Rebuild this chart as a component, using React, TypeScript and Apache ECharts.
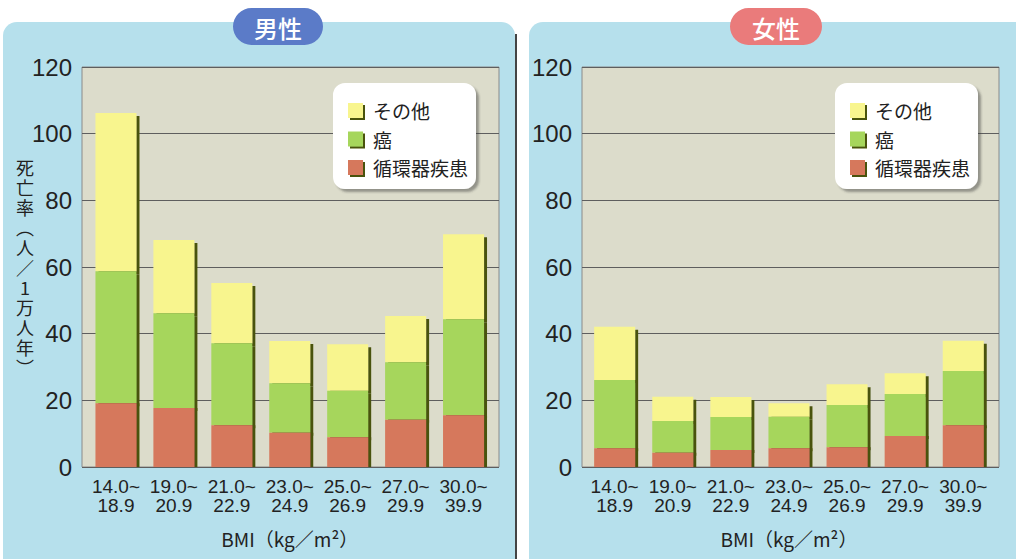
import React, { useEffect, useRef } from "react";
import * as echarts from "echarts";

const bmiLow = ["14.0~", "19.0~", "21.0~", "23.0~", "25.0~", "27.0~", "30.0~"];
const bmiHigh = ["18.9", "20.9", "22.9", "24.9", "26.9", "29.9", "39.9"];
const seriesNames = ["循環器疾患", "癌", "その他"];

const maleCirc = [19.1, 17.7, 12.5, 10.3, 8.9, 14.2, 15.5];
const maleCancer = [39.6, 28.4, 24.6, 14.8, 14.0, 17.2, 28.8];
const maleOther = [47.5, 22.0, 18.1, 12.7, 13.9, 13.9, 25.5];

const femaleCirc = [5.6, 4.3, 5.1, 5.6, 5.9, 9.3, 12.5];
const femaleCancer = [20.5, 9.5, 9.9, 9.5, 12.7, 12.6, 16.3];
const femaleOther = [16.0, 7.3, 6.0, 4.0, 6.2, 6.2, 9.1];

const yTicks = { min: 0, max: 120, interval: 20 };
const panelTitles = ["男性", "女性"];
const yAxisName = "死亡率︵人／1万人年︶";
const xAxisName = "BMI（kg／m²）";

const colors = ["#d6785b", "#a6d65c", "#f8f58e"];
const FONT = "'Noto Sans CJK JP', 'Noto Sans', sans-serif";
const NUMFONT = "'Liberation Sans', 'Noto Sans', sans-serif";

export default function App() {
  const ref = useRef<HTMLDivElement>(null);
  useEffect(() => {
    if (!ref.current) return;
    const chart = echarts.init(ref.current, undefined, { renderer: "svg" });
    const categories = bmiLow.map((l, i) => `${l}\n${bmiHigh[i]}`);

    const panels = [
      { bgLeft: 82, barLeft: 87, barWidth: 405.5, legendLeft: 333, data: [maleCirc, maleCancer, maleOther] },
      { bgLeft: 582, barLeft: 585.6, barWidth: 406.7, legendLeft: 835, data: [femaleCirc, femaleCancer, femaleOther] },
    ];

    const grids: any[] = [];
    const xAxes: any[] = [];
    const yAxes: any[] = [];
    const series: any[] = [];
    const legends: any[] = [];

    panels.forEach((p, pi) => {
      grids.push({
        left: p.bgLeft, top: 67, width: 417, height: 400,
        show: true, backgroundColor: "#dcdccb", borderColor: "#8a8a8a", borderWidth: 1,
      });
      xAxes.push({ gridIndex: pi * 2, type: "category", data: categories, show: false });
      yAxes.push({
        gridIndex: pi * 2, type: "value", ...yTicks,
        axisLine: { show: false }, axisTick: { show: false },
        axisLabel: { fontSize: 24, color: "#222", fontFamily: NUMFONT, margin: 10 },
        splitLine: { lineStyle: { color: "#5e5e5e", width: 1 } },
      });
      grids.push({ left: p.barLeft, top: 67, width: p.barWidth, height: 400 });
      xAxes.push({
        gridIndex: pi * 2 + 1, type: "category", data: categories,
        axisLine: { show: false }, axisTick: { show: false },
        axisLabel: { fontSize: 19, lineHeight: 19, color: "#222", fontFamily: NUMFONT, margin: 10, interval: 0 },
        name: xAxisName, nameLocation: "middle", nameGap: 62,
        nameTextStyle: { fontSize: 19, color: "#222", fontFamily: FONT },
      });
      yAxes.push({ gridIndex: pi * 2 + 1, type: "value", ...yTicks, show: false, splitLine: { show: false } });

      p.data.forEach((vals, si) => {
        series.push({
          type: "bar", name: seriesNames[si], stack: "s" + pi,
          xAxisIndex: pi * 2 + 1, yAxisIndex: pi * 2 + 1,
          data: vals, barWidth: 41, z: 6 - si,
          itemStyle: {
            color: colors[si],
            shadowColor: "#48520f", shadowBlur: 0,
            shadowOffsetX: 3, shadowOffsetY: si === 0 ? 0 : 3,
          },
        });
      });

      legends.push({
        left: p.legendLeft, top: 83, orient: "vertical",
        data: [seriesNames[2], seriesNames[1], seriesNames[0]],
        icon: "rect", itemWidth: 15, itemHeight: 15, itemGap: 9.5,
        padding: [18, 8, 12, 15],
        backgroundColor: "#ffffff", borderRadius: 12,
        shadowColor: "rgba(60,60,60,0.45)", shadowBlur: 2, shadowOffsetX: 3, shadowOffsetY: 3,
        selectedMode: false,
        itemStyle: { shadowColor: "#48520f", shadowBlur: 0, shadowOffsetX: 2, shadowOffsetY: 2 },
        textStyle: { fontSize: 19, color: "#222", fontFamily: FONT, padding: [0, 0, 0, 5] },
      });
    });

    const pills = [
      { x: 233, w: 90, color: "#5b7bc8", text: panelTitles[0] },
      { x: 730, w: 92, color: "#ea7b7b", text: panelTitles[1] },
    ];

    const graphic: any[] = [
      { type: "rect", z: -10, shape: { x: 3, y: 22, width: 512, height: 560, r: 14 }, style: { fill: "#b6e0ec" } },
      { type: "line", z: -10, shape: { x1: 516, y1: 34, x2: 516, y2: 559 }, style: { stroke: "#444", lineWidth: 2 } },
      { type: "rect", z: -10, shape: { x: 529, y: 22, width: 500, height: 560, r: 14 }, style: { fill: "#b6e0ec" } },
      ...pills.flatMap((pl) => [
        { type: "rect", z: 10, shape: { x: pl.x, y: 8, width: pl.w, height: 37, r: 18.5 }, style: { fill: pl.color } },
        {
          type: "text", z: 11, x: pl.x + pl.w / 2, y: 27,
          style: { text: pl.text, fill: "#fff", fontSize: 24, fontFamily: FONT, fontWeight: 500, align: "center", verticalAlign: "middle" },
        },
      ]),
      {
        type: "text", z: 11, x: 25, y: 267,
        style: {
          text: Array.from(yAxisName).join("\n"), fill: "#222", fontSize: 18, lineHeight: 20,
          fontFamily: FONT, align: "center", verticalAlign: "middle",
        },
      },
    ];

    chart.setOption({
      animation: false,
      backgroundColor: "#ffffff",
      grid: grids, xAxis: xAxes, yAxis: yAxes, series, legend: legends, graphic,
    });
    return () => chart.dispose();
  }, []);
  return <div ref={ref} style={{ width: 1016, height: 559, position: "absolute", left: 0, top: 0 }} />;
}
